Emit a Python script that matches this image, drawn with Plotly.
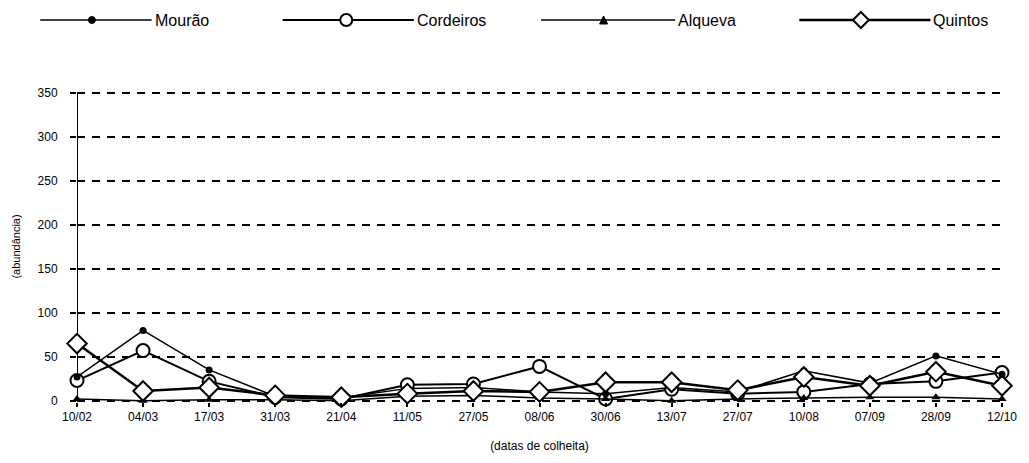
import plotly.graph_objects as go

# Harvest dates and abundance per site
datas = ["10/02", "04/03", "17/03", "31/03", "21/04", "11/05", "27/05", "08/06",
         "30/06", "13/07", "27/07", "10/08", "07/09", "28/09", "12/10"]
mourao = [27, 80, 35, 5, 3, 14, 15, 10, 8, 15, 10, 34, 20, 51, 30]
cordeiros = [23, 57, 22, 4, 2, 18, 19, 39, 2, 13, 8, 10, 19, 22, 32]
alqueva = [2, 0, 1, 1, 0, 5, 6, 3, 2, 0, 2, 3, 4, 4, 2]
quintos = [65, 11, 15, 6, 4, 8, 11, 10, 21, 21, 12, 27, 17, 33, 17]
y_ticks = [0, 50, 100, 150, 200, 250, 300, 350]

W, H = 1029, 463
L, R, T, B = 77, 21, 91, 61
FONT = "Liberation Sans, Arial, sans-serif"

x_idx = list(range(len(datas)))

series = [
    ("Cordeiros", cordeiros, dict(symbol="circle", size=13, color="white", line=dict(width=2, color="black")), 2.0),
    ("Mourão", mourao, dict(symbol="circle", size=7, color="black"), 1.5),
    ("Alqueva", alqueva, dict(symbol="triangle-up", size=8, color="black"), 1.5),
    ("Quintos", quintos, dict(symbol="diamond", size=15, color="white", line=dict(width=2, color="black")), 2.5),
]

fig = go.Figure()
for name, vals, mk, lw in series:
    fig.add_trace(go.Scatter(
        x=x_idx, y=vals, mode="lines+markers", name=name,
        line=dict(color="black", width=lw), marker=mk,
        cliponaxis=False, showlegend=False,
    ))


def px(x):
    return (x - L) / (W - L - R)


def py(y):
    return (H - B - y) / (H - T - B)


# Hand-built legend row above the plot
shapes = []
annotations = []
legend_y = 20
items = [
    ("Mourão", 40, 152, 92, "dot", 1.5),
    ("Cordeiros", 284, 416, 348, "circle", 2.0),
    ("Alqueva", 544, 679, 607, "tri", 1.5),
    ("Quintos", 804, 936, 866, "diamond", 2.5),
]
for label, x0, x1, xm, kind, lw in items:
    shapes.append(dict(type="line", xref="paper", yref="paper",
                       x0=px(x0), x1=px(x1), y0=py(legend_y), y1=py(legend_y),
                       line=dict(color="black", width=lw)))
    if kind == "dot":
        r = 3.5
        shapes.append(dict(type="circle", xref="paper", yref="paper",
                           x0=px(xm - r), x1=px(xm + r), y0=py(legend_y + r), y1=py(legend_y - r),
                           fillcolor="black", line=dict(color="black", width=1)))
    elif kind == "circle":
        r = 6
        shapes.append(dict(type="circle", xref="paper", yref="paper",
                           x0=px(xm - r), x1=px(xm + r), y0=py(legend_y + r), y1=py(legend_y - r),
                           fillcolor="white", line=dict(color="black", width=2)))
    elif kind == "tri":
        r = 4
        path = (f"M {px(xm)},{py(legend_y - r)} L {px(xm + r)},{py(legend_y + r)} "
                f"L {px(xm - r)},{py(legend_y + r)} Z")
        shapes.append(dict(type="path", xref="paper", yref="paper", path=path,
                           fillcolor="black", line=dict(color="black", width=1)))
    else:
        r = 8
        path = (f"M {px(xm)},{py(legend_y - r)} L {px(xm + r)},{py(legend_y)} "
                f"L {px(xm)},{py(legend_y + r)} L {px(xm - r)},{py(legend_y)} Z")
        shapes.append(dict(type="path", xref="paper", yref="paper", path=path,
                           fillcolor="white", line=dict(color="black", width=2)))
    annotations.append(dict(xref="paper", yref="paper", x=px(x1 + 1), y=py(legend_y),
                            text=label, showarrow=False, xanchor="left", yanchor="middle",
                            font=dict(family=FONT, size=16, color="black")))

fig.update_layout(
    width=W, height=H,
    margin=dict(l=L, r=R, t=T, b=B, pad=0),
    paper_bgcolor="white", plot_bgcolor="white",
    font=dict(family=FONT, color="black"),
    shapes=shapes, annotations=annotations,
    xaxis=dict(
        tickmode="array", tickvals=x_idx, ticktext=datas, range=[0, len(datas) - 1],
        showgrid=False, zeroline=False, showline=False,
        ticks="outside", ticklen=4, tickwidth=1.5, tickcolor="black",
        tickfont=dict(size=12, family=FONT),
        title=dict(text="(datas de colheita)", font=dict(size=12, family=FONT), standoff=18),
    ),
    yaxis=dict(
        range=[-1.5, 352.5], tickvals=y_ticks,
        showgrid=True, gridcolor="black", gridwidth=1.5, griddash="8px,7px",
        zeroline=False, showline=False,
        ticks="outside", ticklen=6, tickwidth=1.5, tickcolor="black",
        tickfont=dict(size=12, family=FONT), ticklabelstandoff=10,
        title=dict(text="(abundância)", font=dict(size=11, family=FONT), standoff=14),
    ),
)

# Solid vertical value axis spanning 0 to 350
fig.add_shape(type="line", xref="x", yref="y", x0=0, x1=0, y0=0, y1=y_ticks[-1],
              line=dict(color="black", width=2), layer="below")

fig.write_html("out.html")
